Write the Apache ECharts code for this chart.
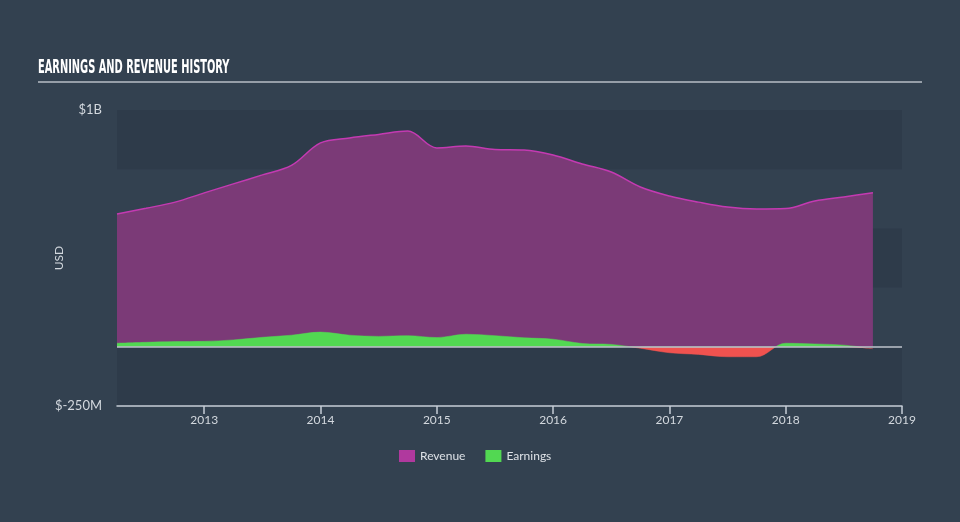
<!DOCTYPE html>
<html>
<head>
<meta charset="utf-8">
<script src="https://cdn.jsdelivr.net/npm/echarts@6/dist/echarts.min.js"></script>
<style>
html,body{margin:0;padding:0;background:#334150;}
#c{width:960px;height:522px;}
</style>
</head>
<body>
<div id="c"></div>
<script>
// Period ends (decimal years, quarterly)
const periods = [2012.25, 2012.5, 2012.75, 2013.0, 2013.25, 2013.5, 2013.75, 2014.0, 2014.25,
  2014.5, 2014.75, 2015.0, 2015.25, 2015.5, 2015.75, 2016.0, 2016.25, 2016.5, 2016.75,
  2017.0, 2017.25, 2017.5, 2017.75, 2018.0, 2018.25, 2018.5, 2018.75];
// Values in USD millions
const revenue = [561, 585, 611, 650, 688, 726, 766, 861, 882, 897, 911, 840, 848, 833, 831,
  810, 772, 738, 675, 637, 611, 590, 582, 584, 616, 633, 651];
const earnings = [15, 19, 22, 23, 29, 40, 49, 62, 49, 44, 47, 39, 53, 47, 38, 32, 14, 10, -6,
  -25, -32, -42, -42, 15, 12, 7, -8];
const yearTicks = [2013, 2014, 2015, 2016, 2017, 2018, 2019];
const yMin = -250, yMax = 1000;

const chart = echarts.init(document.getElementById('c'), null, {renderer: 'canvas'});
const font = 'Lato, "Open Sans", sans-serif';
const option = {
  backgroundColor: '#334150',
  animation: false,
  graphic: [
    {
      type: 'text', x: 38, y: 68.5, scaleX: 0.73, scaleY: 1.26,
      style: {
        text: 'EARNINGS AND REVENUE HISTORY',
        font: 'bold 15px "Liberation Sans Narrow", "DejaVu Sans Condensed", sans-serif',
        fill: '#ffffff', verticalAlign: 'middle', align: 'left'
      }
    },
    {
      type: 'line', shape: {x1: 38, y1: 82, x2: 922, y2: 82},
      style: {stroke: '#b9bec6', lineWidth: 1.5}
    }
  ],
  grid: {left: 117, right: 58, top: 110, bottom: 116},
  legend: {
    left: 394, top: 445, itemWidth: 16, itemHeight: 12, itemGap: 20, icon: 'rect',
    textStyle: {color: '#dde1e6', fontSize: 12, fontFamily: font},
    data: [
      {name: 'Revenue', itemStyle: {color: '#b0399e'}},
      {name: 'Earnings', itemStyle: {color: '#52d852'}}
    ]
  },
  visualMap: {
    type: 'piecewise', show: false, seriesIndex: 1, dimension: 1,
    pieces: [{min: 0, max: 2000, color: '#52d852'}, {min: -2000, max: 0, color: '#f0524f'}]
  },
  xAxis: {
    type: 'value', min: periods[0], max: 2019,
    axisLine: {show: true, onZero: false, lineStyle: {color: '#c6cdd6', width: 1.5}},
    axisTick: {show: true, length: 8, inside: false, customValues: yearTicks, lineStyle: {color: '#c6cdd6', width: 1.5}},
    axisLabel: {customValues: yearTicks, color: '#d3d8de', fontSize: 12, fontFamily: font, margin: 8,
      formatter: v => String(Math.round(v))},
    splitLine: {show: false}
  },
  yAxis: {
    type: 'value', min: yMin, max: yMax, interval: 250,
    name: 'USD', nameLocation: 'middle', nameGap: 52, nameRotate: 90, nameMoveOverlap: false,
    nameTextStyle: {color: '#d3d8de', fontSize: 12, fontFamily: font},
    axisLine: {show: false}, axisTick: {show: false},
    axisLabel: {color: '#d3d8de', fontSize: 13, fontFamily: font, margin: 15,
      formatter: v => v === yMax ? '$1B' : (v === yMin ? '$-250M' : '')},
    splitLine: {show: false},
    splitArea: {show: true, areaStyle: {color: ['#2e3b4a', 'rgba(0,0,0,0)']}}
  },
  series: [
    {
      name: 'Revenue', type: 'line', smooth: 0.35, showSymbol: false, symbol: 'none',
      data: periods.map((p, i) => [p, revenue[i]]),
      lineStyle: {color: '#c43ab2', width: 1.5},
      itemStyle: {color: '#b0399e'},
      areaStyle: {color: '#7b3a77', opacity: 1},
      z: 2,
      markLine: {
        silent: true, symbol: 'none', label: {show: false},
        lineStyle: {color: '#bfc5cd', width: 1.5, type: 'solid'},
        data: [{yAxis: 0}]
      }
    },
    {
      name: 'Earnings', type: 'line', smooth: 0.35, showSymbol: false, symbol: 'none',
      data: periods.map((p, i) => [p, earnings[i]]),
      lineStyle: {width: 0.5},
      itemStyle: {color: '#52d852'},
      areaStyle: {opacity: 1},
      z: 3
    }
  ]
};
chart.setOption(option);
</script>
</body>
</html>
